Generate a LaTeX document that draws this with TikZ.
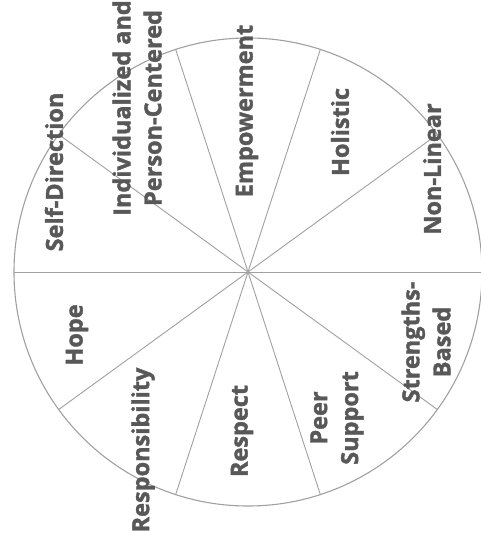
\documentclass[tikz,border=0pt]{standalone}
\usepackage{fontspec}
\usetikzlibrary{calc}
\newfontfamily\labfont{Open Sans}[BoldFont={* Bold},FakeBold=1.6]
\definecolor{labgray}{RGB}{88,88,88}
\definecolor{linegray}{RGB}{160,160,160}
\begin{document}
\begin{tikzpicture}[x=1pt,y=1pt,
  lab/.style={rotate=90,inner sep=0pt,align=center,text=labgray,
    font=\labfont\bfseries\fontsize{23.5}{31}\selectfont},
  spoke/.style={draw=linegray,line width=0.9pt},
  rim/.style={draw=linegray,line width=1.1pt}]
\useasboundingbox (0,0) rectangle (480,540);
\coordinate (c) at (248,268);
\draw[rim] (c) circle[radius=234];
\foreach \a in {0,36,...,324}{
  \coordinate (p\a) at ($(c)+(\a:234)$);
  \draw[spoke] (c) -- (p\a);
}
\node[lab] (selfdir) at (54,368) {Self-Direction};
\node[lab] (indiv) at (137,432) {Individualized and\\Person-Centered};
\node[lab] (empow) at (247,429) {Empowerment};
\node[lab] (holis) at (340,408) {Holistic};
\node[lab] (nonlin) at (432,371) {Non-Linear};
\node[lab] (hope) at (77,205) {Hope};
\node[lab] (resp) at (143,90) {Responsibility};
\node[lab] (respect) at (242,109) {Respect};
\node[lab] (peer) at (337,122) {Peer\\Support};
\node[lab] (stren) at (426,198) {Strengths-\\Based};
\end{tikzpicture}
\end{document}
